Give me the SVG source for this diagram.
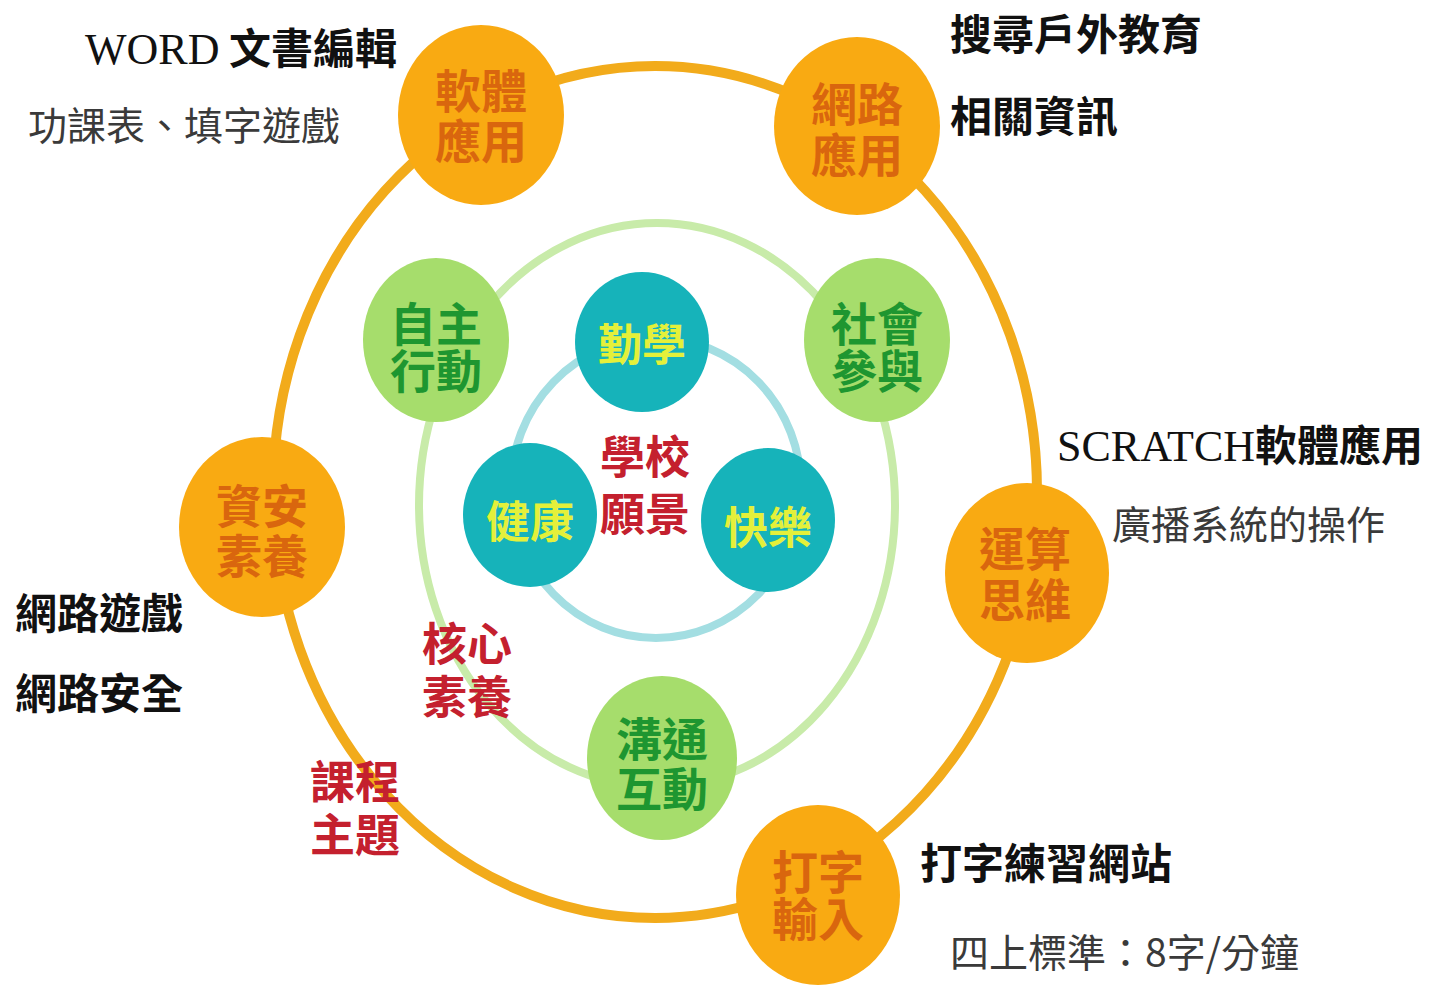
<svg xmlns="http://www.w3.org/2000/svg" width="1429" height="988" viewBox="0 0 1429 988">
<style>
text{font-family:"Noto Sans CJK TC","Noto Sans CJK SC",sans-serif;}
.ring{fill:none;}
.o-ring{stroke:#F2AB1B;stroke-width:10;}
.g-ring{stroke:#C8EBA9;stroke-width:8;}
.t-ring{stroke:#A3DEE2;stroke-width:8;}
.on{fill:#F9AA12;}
.gn{fill:#A6DD6C;}
.tn{fill:#16B3BA;}
.ot{fill:#D9660E;font-size:46px;font-weight:bold;text-anchor:middle;}
.gt{fill:#1E9630;font-size:46px;font-weight:bold;text-anchor:middle;}
.tt{fill:#E4F03A;font-size:44px;font-weight:bold;text-anchor:middle;}
.rt{fill:#C4202E;font-size:45px;font-weight:bold;text-anchor:middle;}
.bt{fill:#111;font-size:42px;font-weight:bold;}
.st{fill:#3a3a3a;font-size:39px;font-weight:normal;}
.serif{font-family:"Liberation Serif",serif;font-weight:normal;}
</style>
<rect width="1429" height="988" fill="#fff"/>
<g id="connectors">
<ellipse class="ring o-ring" cx="655" cy="492" rx="382" ry="426"/>
<ellipse class="ring g-ring" cx="657" cy="505" rx="238" ry="282"/>
<ellipse class="ring t-ring" cx="656" cy="488" rx="145" ry="150"/>
</g>
<g id="node-software">
<ellipse class="on" cx="481" cy="115" rx="83" ry="90"/>
<text class="ot" x="481" y="108">軟體<tspan x="481" dy="50">應用</tspan></text>
</g>
<g id="node-network">
<ellipse class="on" cx="857" cy="126" rx="83" ry="89"/>
<text class="ot" x="857" y="121">網路<tspan x="857" dy="51">應用</tspan></text>
</g>
<g id="node-security">
<ellipse class="on" cx="262" cy="527" rx="83" ry="90"/>
<text class="ot" x="262" y="523">資安<tspan x="262" dy="50">素養</tspan></text>
</g>
<g id="node-computational">
<ellipse class="on" cx="1027" cy="573" rx="82" ry="90"/>
<text class="ot" x="1025" y="566">運算<tspan x="1025" dy="51">思維</tspan></text>
</g>
<g id="node-typing">
<ellipse class="on" cx="818" cy="895" rx="82" ry="90"/>
<text class="ot" x="818" y="889">打字<tspan x="818" dy="47">輸入</tspan></text>
</g>
<g id="node-autonomy">
<ellipse class="gn" cx="436" cy="340" rx="73" ry="82"/>
<text class="gt" x="436" y="341">自主<tspan x="436" dy="47">行動</tspan></text>
</g>
<g id="node-social">
<ellipse class="gn" cx="877" cy="340" rx="73" ry="82"/>
<text class="gt" x="877" y="341">社會<tspan x="877" dy="47">參與</tspan></text>
</g>
<g id="node-communication">
<ellipse class="gn" cx="662" cy="758" rx="75" ry="82"/>
<text class="gt" x="662" y="756">溝通<tspan x="662" dy="50">互動</tspan></text>
</g>
<g id="node-diligent">
<ellipse class="tn" cx="642" cy="342" rx="67" ry="70"/>
<text class="tt" x="642" y="361">勤學</text>
</g>
<g id="node-health">
<ellipse class="tn" cx="530" cy="515" rx="67" ry="72"/>
<text class="tt" x="530" y="538">健康</text>
</g>
<g id="node-happy">
<ellipse class="tn" cx="768" cy="520" rx="67" ry="72"/>
<text class="tt" x="768" y="544">快樂</text>
</g>
<g id="labels">
<text class="rt" x="645" y="474">學校<tspan x="645" dy="57">願景</tspan></text>
<text class="rt" x="467" y="661">核心<tspan x="467" dy="53">素養</tspan></text>
<text class="rt" x="355" y="799">課程<tspan x="355" dy="53">主題</tspan></text>
</g>
<g id="notes">
<text class="bt" x="85" y="64"><tspan class="serif" font-size="44">WORD</tspan> 文書編輯</text>
<text class="st" x="28" y="140">功課表、填字遊戲</text>
<text class="bt" x="950" y="50">搜尋戶外教育</text>
<text class="bt" x="950" y="132">相關資訊</text>
<text class="bt" x="1057" y="461"><tspan class="serif" font-size="44">SCRATCH</tspan>軟體應用</text>
<text class="st" x="1112" y="539">廣播系統的操作</text>
<text class="bt" x="15" y="629">網路遊戲</text>
<text class="bt" x="15" y="709">網路安全</text>
<text class="bt" x="920" y="879">打字練習網站</text>
<text class="st" x="950" y="967">四上標準：8字/分鐘</text>
</g>
</svg>
